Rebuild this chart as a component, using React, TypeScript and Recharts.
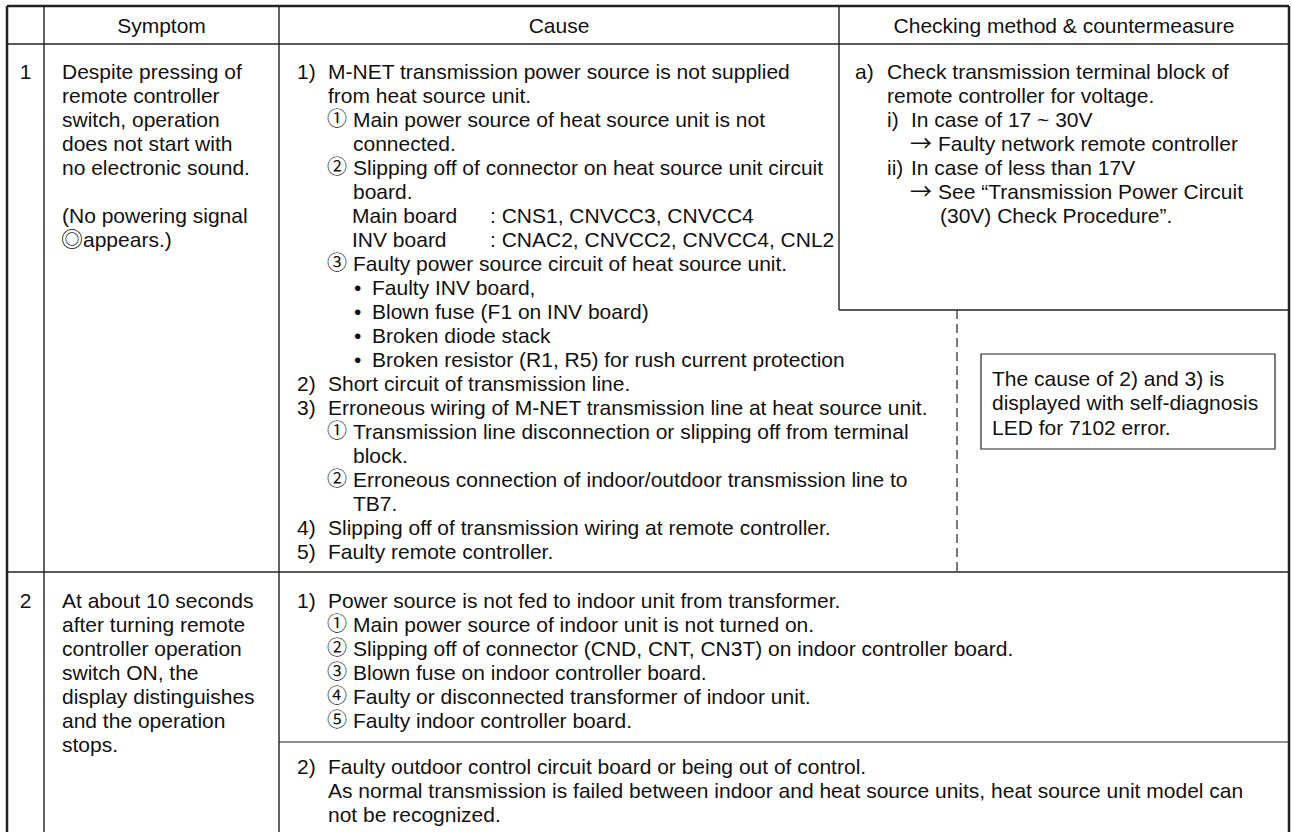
import { ScatterChart, Scatter, XAxis, YAxis, ReferenceLine, ReferenceArea } from 'recharts'

// ---- table content ----
type Item = [string, string, number] // prefix, text, indent level

const headers = ['Symptom', 'Cause', 'Checking method & countermeasure']
const rowNumbers = ['1', '2']

const symptom1 = [
  'Despite pressing of',
  'remote controller',
  'switch, operation',
  'does not start with',
  'no electronic sound.',
  '',
  '(No powering signal',
  'appears.)',
]

const cause1: Item[] = [
  ['1)', 'M-NET transmission power source is not supplied', 0],
  ['', 'from heat source unit.', 0],
  ['①', 'Main power source of heat source unit is not', 1],
  ['', 'connected.', 1],
  ['②', 'Slipping off of connector on heat source unit circuit', 1],
  ['', 'board.', 1],
  ['Main board', ': CNS1, CNVCC3, CNVCC4', 3],
  ['INV board', ': CNAC2, CNVCC2, CNVCC4, CNL2', 3],
  ['③', 'Faulty power source circuit of heat source unit.', 1],
  ['•', 'Faulty INV board,', 2],
  ['•', 'Blown fuse (F1 on INV board)', 2],
  ['•', 'Broken diode stack', 2],
  ['•', 'Broken resistor (R1, R5) for rush current protection', 2],
  ['2)', 'Short circuit of transmission line.', 0],
  ['3)', 'Erroneous wiring of M-NET transmission line at heat source unit.', 0],
  ['①', 'Transmission line disconnection or slipping off from terminal', 1],
  ['', 'block.', 1],
  ['②', 'Erroneous connection of indoor/outdoor transmission line to', 1],
  ['', 'TB7.', 1],
  ['4)', 'Slipping off of transmission wiring at remote controller.', 0],
  ['5)', 'Faulty remote controller.', 0],
]

const check1: Item[] = [
  ['a)', 'Check transmission terminal block of', 0],
  ['', 'remote controller for voltage.', 0],
  ['i)', 'In case of 17 ~ 30V', 1],
  ['→', 'Faulty network remote controller', 2],
  ['ii)', 'In case of less than 17V', 1],
  ['→', 'See “Transmission Power Circuit', 2],
  ['', '(30V) Check Procedure”.', 4],
]

const note1 = ['The cause of 2) and 3) is', 'displayed with self-diagnosis', 'LED for 7102 error.']

const symptom2 = [
  'At about 10 seconds',
  'after turning remote',
  'controller operation',
  'switch ON, the',
  'display distinguishes',
  'and the operation',
  'stops.',
]

const cause2a: Item[] = [
  ['1)', 'Power source is not fed to indoor unit from transformer.', 0],
  ['①', 'Main power source of indoor unit is not turned on.', 1],
  ['②', 'Slipping off of connector (CND, CNT, CN3T) on indoor controller board.', 1],
  ['③', 'Blown fuse on indoor controller board.', 1],
  ['④', 'Faulty or disconnected transformer of indoor unit.', 1],
  ['⑤', 'Faulty indoor controller board.', 1],
]

const cause2b: Item[] = [
  ['2)', 'Faulty outdoor control circuit board or being out of control.', 0],
  ['', 'As normal transmission is failed between indoor and heat source units, heat source unit model can', 0],
  ['', 'not be recognized.', 0],
]

// ---- layout ----
const W = 1292
const H = 832
const FONT = '"Liberation Sans", Arial, Helvetica, "Noto Sans CJK JP", sans-serif'
const SYM_FONT = '"Noto Sans CJK JP", "DejaVu Sans", sans-serif'
const LINE = 24

const L = 7
const R = 1289
const T = 6
const HEAD_B = 44
const C1 = 44
const C2 = 279
const C3 = 839
const ROW1_B = 572
const BOX_B = 310
const DASH_X = 957
const ROW2_SPLIT = 742

// prefix x / text x per indent level
const CAUSE_X = [
  [297, 328],
  [327, 353],
  [354, 372],
  [352, 490],
]
const CHECK_X = [
  [855, 887],
  [887, 911],
  [910, 938],
  [0, 0],
  [0, 940],
]

type Pt = { x: number; y: number; text: string; anchor: string; sym?: number }

// symbol glyphs come from the CJK font at their own size
const symSize = (s: string) => (s === '→' ? 22 : /[①-⑳◎]/.test(s) ? 20 : 0)

function block(items: Item[], xs: number[][], y0: number, step = LINE): Pt[] {
  const out: Pt[] = []
  items.forEach(([p, t, lvl], i) => {
    const y = y0 + i * step
    if (p) out.push({ x: xs[lvl][0], y, text: p, anchor: 'start', sym: symSize(p) })
    out.push({ x: xs[lvl][1], y, text: t, anchor: 'start' })
  })
  return out
}

function plain(lines: string[], x: number, y0: number, step = LINE): Pt[] {
  return lines.map((t, i) => ({ x, y: y0 + i * step, text: t, anchor: 'start' }))
}

const points: Pt[] = [
  { x: (C1 + C2) / 2, y: 25, text: headers[0], anchor: 'middle' },
  { x: (C2 + C3) / 2, y: 25, text: headers[1], anchor: 'middle' },
  { x: (C3 + R) / 2, y: 25, text: headers[2], anchor: 'middle' },
  { x: (L + C1) / 2, y: 71, text: rowNumbers[0], anchor: 'middle' },
  { x: (L + C1) / 2, y: 600, text: rowNumbers[1], anchor: 'middle' },
  ...plain(symptom1.slice(0, 7), 62, 71),
  { x: 61, y: 71 + 7 * LINE, text: '◎', anchor: 'start', sym: 22 },
  { x: 83, y: 71 + 7 * LINE, text: symptom1[7], anchor: 'start' },
  ...block(cause1, CAUSE_X, 71),
  ...block(check1, CHECK_X, 71),
  ...plain(note1, 992, 378, 24.5),
  ...plain(symptom2, 62, 600),
  ...block(cause2a, CAUSE_X, 600),
  ...block(cause2b, CAUSE_X, 766),
].filter((p) => p.text !== '')

const rules = [
  // outer frame
  { a: [L, T], b: [R, T], w: 2.5 },
  { a: [L, T], b: [L, H], w: 2.5 },
  { a: [R, T], b: [R, H], w: 2.5 },
  // header / rows
  { a: [L, HEAD_B], b: [R, HEAD_B], w: 1.4 },
  { a: [L, ROW1_B], b: [R, ROW1_B], w: 1.4 },
  { a: [C2, ROW2_SPLIT], b: [R, ROW2_SPLIT], w: 1.2 },
  // columns
  { a: [C1, T], b: [C1, H], w: 1.4 },
  { a: [C2, T], b: [C2, H], w: 1.4 },
  { a: [C3, T], b: [C3, BOX_B], w: 1.4 },
  { a: [C3, BOX_B], b: [R, BOX_B], w: 1.4 },
]

function CellText(props: any) {
  const { cx, cy, payload } = props
  const sym = payload.sym
  return (
    <text
      x={cx}
      y={cy}
      dy="0.36em"
      textAnchor={payload.anchor}
      fontSize={sym || 21}
      fontFamily={sym ? SYM_FONT : FONT}
      fill="#111"
      style={{ whiteSpace: 'pre' }}
    >
      {payload.text}
    </text>
  )
}

export default function App() {
  return (
    <div style={{ position: 'absolute', left: 0, top: 0, width: W, height: H, background: '#fff' }}>
      <ScatterChart width={W} height={H} margin={{ top: 0, right: 0, bottom: 0, left: 0 }}>
        <XAxis type="number" dataKey="x" domain={[0, W]} hide allowDataOverflow />
        <YAxis type="number" dataKey="y" domain={[0, H]} reversed hide allowDataOverflow />
        {rules.map((r, i) => (
          <ReferenceLine
            key={i}
            segment={[
              { x: r.a[0], y: r.a[1] },
              { x: r.b[0], y: r.b[1] },
            ]}
            stroke="#222"
            strokeWidth={r.w}
            ifOverflow="visible"
          />
        ))}
        <ReferenceLine
          segment={[
            { x: DASH_X, y: BOX_B },
            { x: DASH_X, y: ROW1_B },
          ]}
          stroke="#222"
          strokeWidth={1.2}
          strokeDasharray="9 5"
          ifOverflow="visible"
        />
        <ReferenceArea
          x1={981}
          x2={1275}
          y1={354}
          y2={449}
          fill="none"
          stroke="#222"
          strokeWidth={1.2}
          ifOverflow="visible"
        />
        <Scatter data={points} shape={CellText} isAnimationActive={false} />
      </ScatterChart>
    </div>
  )
}
